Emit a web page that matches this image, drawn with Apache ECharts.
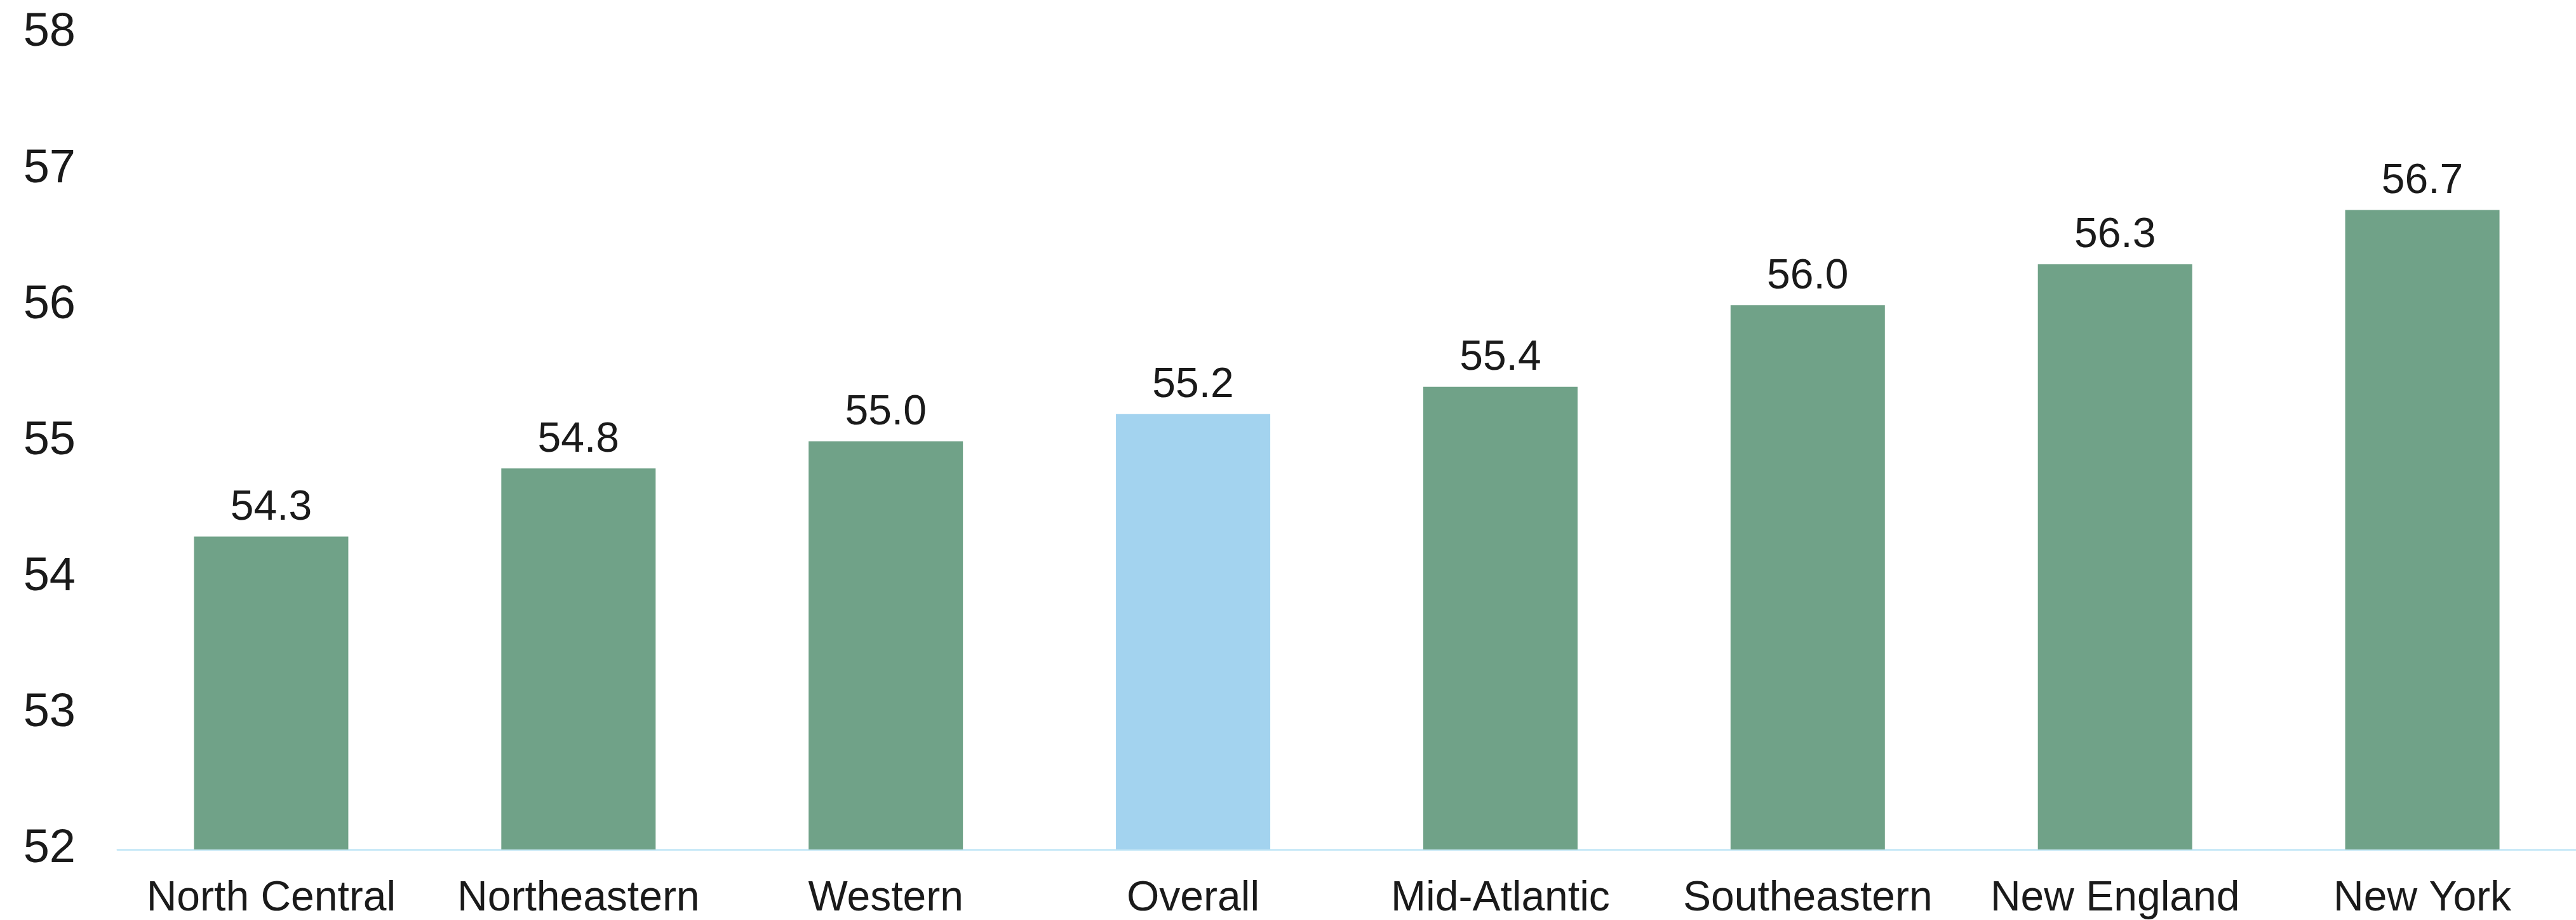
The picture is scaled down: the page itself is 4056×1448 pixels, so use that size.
<!DOCTYPE html>
<html>
<head>
<meta charset="utf-8">
<script src="https://cdn.jsdelivr.net/npm/echarts@6/dist/echarts.min.js"></script>
<style>
  html, body { margin: 0; padding: 0; background: #fff; }
  #bar-chart { width: 4056px; height: 1448px; }
</style>
</head>
<body>
<div id="bar-chart"></div>
<script>
  // 地区 / 数值
  var regions = ['North Central', 'Northeastern', 'Western', 'Overall', 'Mid-Atlantic', 'Southeastern', 'New England', 'New York'];
  var ages = [54.3, 54.8, 55.0, 55.2, 55.4, 56.0, 56.3, 56.7];
  var yTicks = [52, 53, 54, 55, 56, 57, 58];
  var highlightName = 'Overall';

  var barChart = echarts.init(document.getElementById('bar-chart'));

  var barData = ages.map(function (v, i) {
    return {
      value: v,
      itemStyle: { color: regions[i] === highlightName ? '#a3d3ef' : '#70a288' }
    };
  });

  var barOption = {
    animation: false,
    backgroundColor: '#ffffff',
    textStyle: { fontFamily: 'Liberation Sans, Arial, sans-serif' },
    grid: {
      left: 185,
      top: 52,
      width: 3898,
      height: 1285,
      containLabel: false
    },
    xAxis: {
      type: 'category',
      data: regions,
      axisLine: { show: true, lineStyle: { color: '#c9e9f7', width: 3 } },
      axisTick: { show: false },
      axisLabel: { color: '#1a1a1a', fontSize: 66, margin: 45, interval: 0 }
    },
    yAxis: {
      type: 'value',
      min: yTicks[0],
      max: yTicks[yTicks.length - 1],
      interval: 1,
      axisLine: { show: false },
      axisTick: { show: false },
      splitLine: { show: false },
      axisLabel: { color: '#1a1a1a', fontSize: 74, margin: 66 }
    },
    series: [{
      type: 'bar',
      data: barData,
      barWidth: 243,
      label: {
        show: true,
        position: 'top',
        distance: 12,
        color: '#1a1a1a',
        fontSize: 66,
        formatter: function (p) { return p.value.toFixed(1); }
      }
    }]
  };

  barOption && barChart.setOption(barOption);
</script>
</body>
</html>
